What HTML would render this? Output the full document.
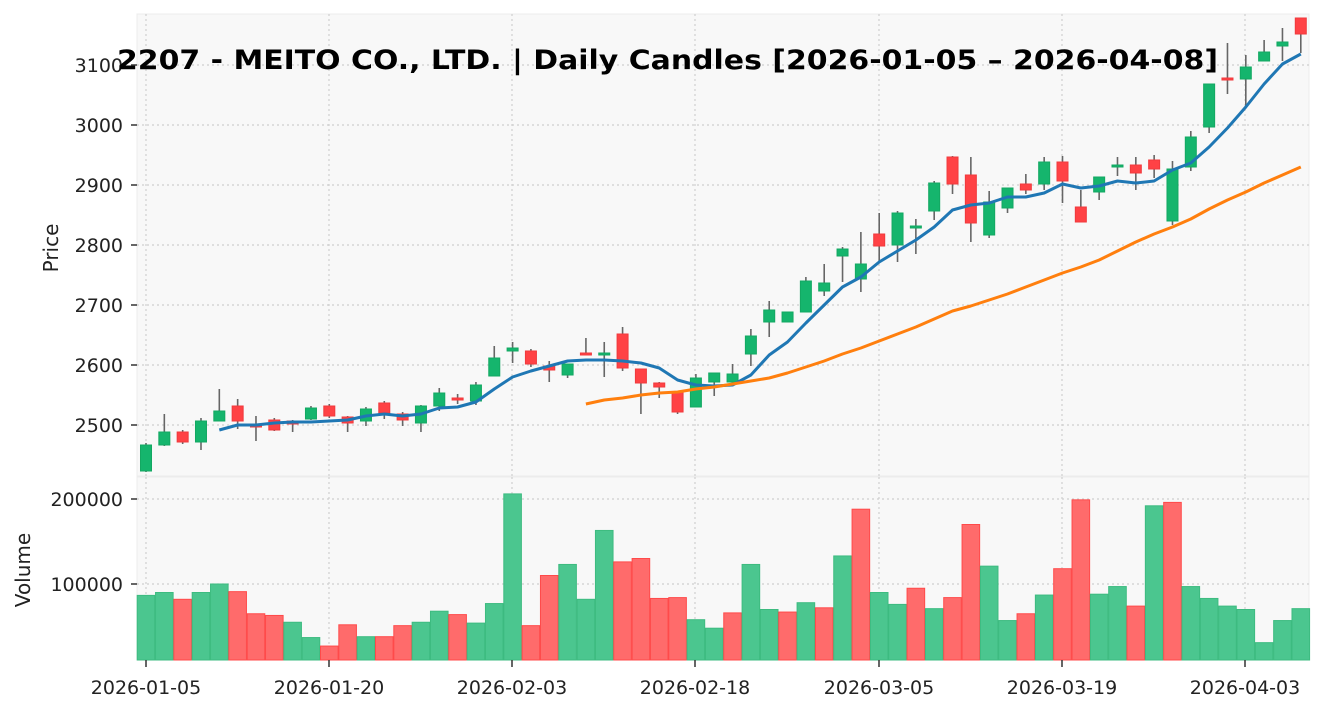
<!DOCTYPE html>
<html><head><meta charset="utf-8">
<style>
html,body{margin:0;padding:0;background:#fff;}
svg{display:block;font-family:"DejaVu Sans","Liberation Sans",sans-serif;}
</style></head>
<body>
<svg id="c" width="1324" height="711" viewBox="0 0 1324 711" xmlns="http://www.w3.org/2000/svg">
<rect x="0" y="0" width="1324" height="711" fill="#fff"/>
<rect x="137" y="14" width="1172" height="462" fill="#f8f8f8" stroke="#ececec"/>
<rect x="137" y="477" width="1172" height="183" fill="#f8f8f8" stroke="#ececec"/>
<g id="grid" stroke="#cfcfcf" stroke-width="1.2" stroke-dasharray="2,3"></g>
<g id="vol"></g>
<g id="cand"></g>
<polyline id="ma1" fill="none" stroke="#1f77b4" stroke-width="3" stroke-linejoin="round"/>
<polyline id="ma2" fill="none" stroke="#ff7f0e" stroke-width="3" stroke-linejoin="round"/>
<g font-size="19" fill="#222" text-anchor="end">
<text x="123" y="432">2500</text><text x="123" y="372">2600</text><text x="123" y="312">2700</text>
<text x="123" y="252">2800</text><text x="123" y="192">2900</text><text x="123" y="132">3000</text>
<text x="123" y="72">3100</text>
<text x="123" y="591">100000</text><text x="123" y="506">200000</text>
</g>
<g font-size="19" fill="#222" text-anchor="middle">
<text x="146" y="694">2026-01-05</text><text x="329" y="694">2026-01-20</text><text x="512" y="694">2026-02-03</text>
<text x="695" y="694">2026-02-18</text><text x="879" y="694">2026-03-05</text><text x="1062" y="694">2026-03-19</text>
<text x="1245" y="694">2026-04-03</text>
</g>
<text font-size="20" fill="#222" text-anchor="middle" transform="translate(58,248) rotate(-90)">Price</text>
<text font-size="20" fill="#222" text-anchor="middle" transform="translate(30,570) rotate(-90)">Volume</text>
<text x="117" y="69" font-size="27" font-weight="bold" fill="#000" textLength="1101" lengthAdjust="spacingAndGlyphs">2207 - MEITO CO., LTD. | Daily Candles [2026-01-05 – 2026-04-08]</text>
</svg>
<script>
var ns="http://www.w3.org/2000/svg";
function el(p,t,a){var e=document.createElementNS(ns,t);for(var k in a)e.setAttribute(k,a[k]);p.appendChild(e);return e;}
var g=document.getElementById('grid');
[425,365,305,245,185,125,65].forEach(function(y){el(g,'line',{x1:137,x2:1309,y1:y,y2:y});});
[584,499].forEach(function(y){el(g,'line',{x1:137,x2:1309,y1:y,y2:y});});
[146,329,512,695,879,1062,1245].forEach(function(x){el(g,'line',{x1:x,x2:x,y1:14,y2:476});el(g,'line',{x1:x,x2:x,y1:477,y2:660});});
var tk=document.getElementById('c');
[425,365,305,245,185,125,65,584,499].forEach(function(y){el(tk,'line',{x1:131,x2:137,y1:y,y2:y,stroke:'#333','stroke-width':1.5});});
[146,329,512,695,879,1062,1245].forEach(function(x){el(tk,'line',{x1:x,x2:x,y1:660,y2:667,stroke:'#333','stroke-width':1.5});});
var C=[[445,471,443,472,'G'],[432,445,414,446,'G'],[432,442,430,444,'R'],[421,442,418,450,'G'],[411,421,389,421,'G'],[406,421,399,429,'R'],[424,427,416,441,'R'],[420,430,418,431,'R'],[421,424,420,432,'R'],[408,419,406,420,'G'],[406,416,404,418,'R'],[417,423,416,432,'R'],[409,421,407,426,'G'],[403,413,401,419,'R'],[414,420,412,426,'R'],[406,423,405,432,'G'],[393,406,388,411,'G'],[398,400,394,404,'R'],[385,401,382,405,'G'],[358,376,346,376,'G'],[348,351,342,363,'G'],[351,364,349,367,'R'],[366,370,361,382,'R'],[364,375,364,378,'G'],[353,355,338,355,'R'],[353,354,342,377,'G'],[334,368,327,371,'R'],[369,383,369,414,'R'],[383,387,382,398,'R'],[392,412,392,414,'R'],[378,407,374,407,'G'],[373,382,373,396,'G'],[374,382,364,384,'G'],[336,354,329,366,'G'],[310,322,301,337,'G'],[312,322,312,322,'G'],[281,312,277,312,'G'],[283,291,264,296,'G'],[249,256,247,282,'G'],[264,279,232,292,'G'],[234,246,213,263,'R'],[213,245,211,262,'G'],[226,228,219,254,'G'],[183,211,181,220,'G'],[157,184,156,194,'R'],[175,223,157,242,'R'],[202,235,191,238,'G'],[188,208,188,213,'G'],[184,190,174,194,'R'],[162,184,157,190,'G'],[162,181,156,203,'R'],[207,222,190,222,'R'],[177,192,177,200,'G'],[165,167,157,176,'G'],[165,173,157,190,'R'],[160,169,155,178,'R'],[169,221,161,225,'G'],[137,167,131,171,'G'],[84,127,84,133,'G'],[78,80,43,94,'R'],[67,79,55,107,'G'],[52,61,40,61,'G'],[42,46,28,61,'G'],[18,34,18,53,'R']];
var cg=document.getElementById('cand');
C.forEach(function(c,i){var x=146+18.33*i;
 el(cg,'line',{x1:x,x2:x,y1:c[2],y2:c[3],stroke:'#666','stroke-width':1.6});
 var col=c[4]=='G'?'#15b56d':'#ff4245';var h=Math.max(c[1]-c[0],2);
 el(cg,'rect',{x:x-5.5,y:c[0],width:11,height:h,fill:col,stroke:c[4]=='G'?'#13a862':'#f03a3d','stroke-width':1});});
var V=[[86.6,'G'],[90,'G'],[82,'R'],[90,'G'],[100,'G'],[91,'R'],[65,'R'],[63,'R'],[55,'G'],[37,'G'],[27,'R'],[52,'R'],[38,'G'],[38,'R'],[51,'R'],[55,'G'],[68,'G'],[64,'R'],[54,'G'],[77,'G'],[206,'G'],[51,'R'],[110,'R'],[123,'G'],[82,'G'],[163,'G'],[126,'R'],[130,'R'],[83,'R'],[84,'R'],[58,'G'],[48,'G'],[66,'R'],[123,'G'],[70,'G'],[67,'R'],[78,'G'],[72,'R'],[133,'G'],[188,'R'],[90,'G'],[76,'G'],[95,'R'],[71,'G'],[84,'R'],[170,'R'],[121,'G'],[57,'G'],[65,'R'],[87,'G'],[118,'R'],[199,'R'],[88,'G'],[97,'G'],[74,'R'],[192,'G'],[196,'R'],[97,'G'],[83,'G'],[74,'G'],[70,'G'],[31,'G'],[57,'G'],[71,'G']];
var vg=document.getElementById('vol');
V.forEach(function(v,i){var x=146+18.33*i;var y=669-v[0]*0.85;
 el(vg,'rect',{x:x-8.8,y:y,width:17.6,height:660-y,fill:v[1]=='G'?'#4bc68f':'#ff6b6b',stroke:v[1]=='G'?'#3dbb80':'#ff4a4a','stroke-width':1});});
var B=[430,425,425,423,422,422,421,420,416,414,416,414,408,407,402,389,377,371,366,361,360,360,361,363,368,380,385,386,385,375,355,342,323,305,287,277,262,251,240,227,210,205,203,197,197,193,184,188,186,181,183,181,170,163,147,128,107,84,64,54];
var pts=B.map(function(y,i){return (146+18.33*(i+4)).toFixed(1)+','+y;}).join(' ');
document.getElementById('ma1').setAttribute('points',pts);
var O=[404,400,398,395,393,392,389,387,384,381,378,373,367,361,354,348,341,334,327,319,311,306,300,294,287,280,273,267,260,251,242,234,227,219,209,200,192,183,175,167];
pts=O.map(function(y,i){return (146+18.33*(i+24)).toFixed(1)+','+y;}).join(' ');
document.getElementById('ma2').setAttribute('points',pts);
</script>
</body></html>
